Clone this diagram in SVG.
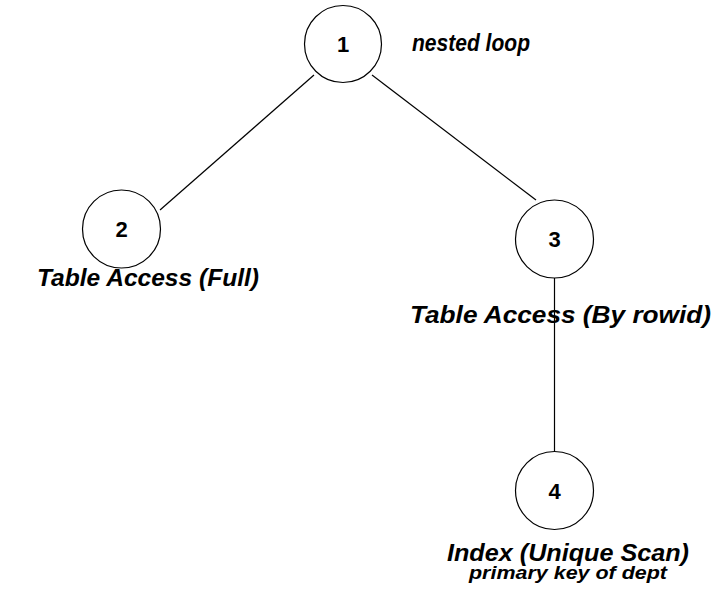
<svg xmlns="http://www.w3.org/2000/svg" width="716" height="591" viewBox="0 0 716 591">
<style>
.node{fill:#fff;stroke:#000;stroke-width:1.2}
.num{font-family:"Liberation Sans",Arial,sans-serif;font-weight:bold;font-size:22px;text-anchor:middle;fill:#000}
.lbl{font-family:"Liberation Sans",Arial,sans-serif;font-weight:bold;font-style:italic;font-size:24px;fill:#000}
.edge{stroke:#000;stroke-width:1.2;fill:none}
</style>
<rect width="716" height="591" fill="#fff"/>
<g id="connectors">
<line class="edge" x1="314" y1="75" x2="160" y2="210"/>
<line class="edge" x1="372" y1="75" x2="536" y2="200"/>
<line class="edge" x1="554.5" y1="278" x2="554.5" y2="452"/>
</g>
<g id="node1">
<circle class="node" cx="343" cy="44" r="38.5"/>
<text class="num" x="343" y="52">1</text>
<text class="lbl" x="412" y="51" style="font-size:23px" textLength="118" lengthAdjust="spacingAndGlyphs">nested loop</text>
</g>
<g id="node2">
<circle class="node" cx="121.5" cy="229" r="39"/>
<text class="num" x="121.5" y="237">2</text>
<text class="lbl" x="37" y="286" textLength="222" lengthAdjust="spacingAndGlyphs">Table Access (Full)</text>
</g>
<g id="node3">
<circle class="node" cx="554.5" cy="239" r="39"/>
<text class="num" x="554.5" y="247">3</text>
<text class="lbl" x="410" y="323" textLength="301" lengthAdjust="spacingAndGlyphs">Table Access (By rowid)</text>
</g>
<g id="node4">
<circle class="node" cx="554.5" cy="490.5" r="39"/>
<text class="num" x="554.5" y="498.5">4</text>
<text class="lbl" x="447" y="561" textLength="242" lengthAdjust="spacingAndGlyphs">Index (Unique Scan)</text>
<text class="lbl" x="469" y="579" style="font-size:19px" textLength="198" lengthAdjust="spacingAndGlyphs">primary key of dept</text>
</g>
</svg>
